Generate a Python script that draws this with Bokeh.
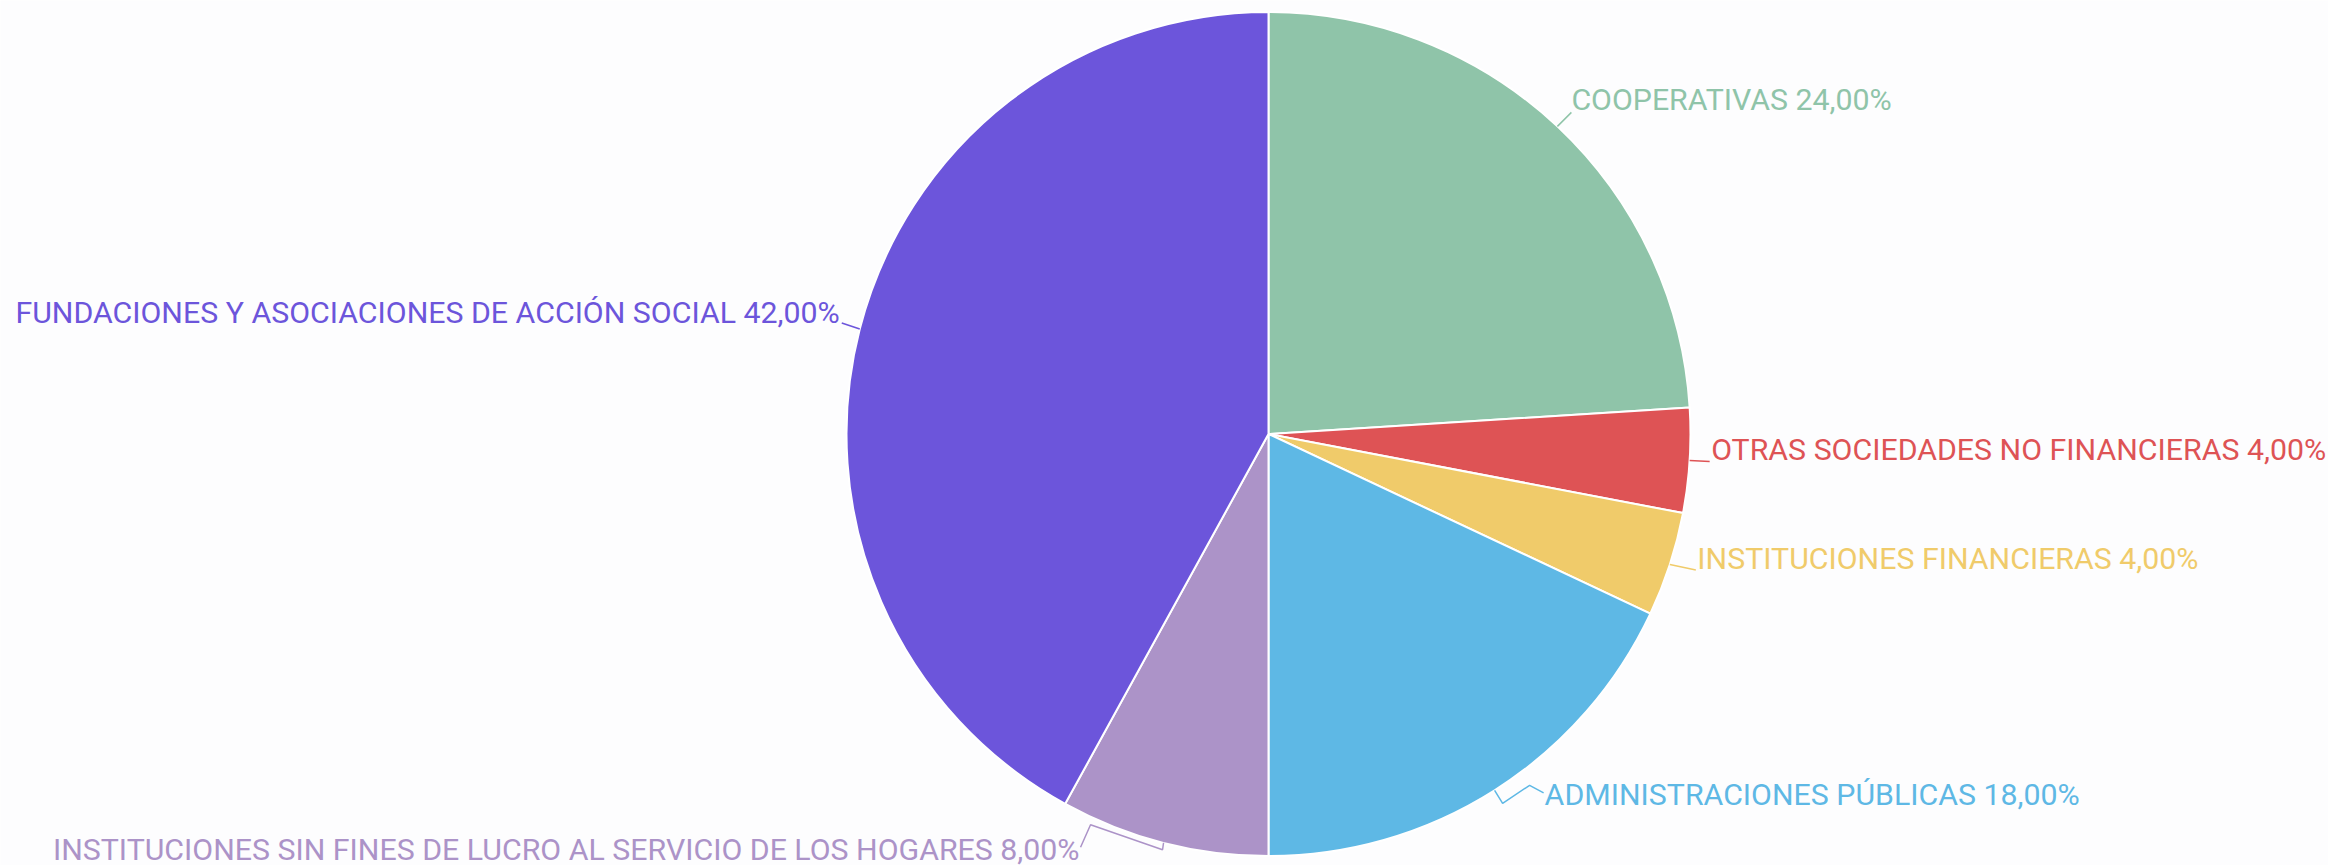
import math
from bokeh.plotting import figure
from bokeh.models import Range1d, ColumnDataSource
from bokeh.core.properties import value
from bokeh.embed import file_html
from bokeh.resources import INLINE

# ---- data ----
categories = [
    "COOPERATIVAS",
    "OTRAS SOCIEDADES NO FINANCIERAS",
    "INSTITUCIONES FINANCIERAS",
    "ADMINISTRACIONES PÚBLICAS",
    "INSTITUCIONES SIN FINES DE LUCRO AL SERVICIO DE LOS HOGARES",
    "FUNDACIONES Y ASOCIACIONES DE ACCIÓN SOCIAL",
]
values = [24.0, 4.0, 4.0, 18.0, 8.0, 42.0]
colors = ["#8FC4A9", "#DE5355", "#F0CB6A", "#5EB8E5", "#AC93C8", "#6C55DB"]

# ---- layout (screen px, y downward) ----
W, H = 2328, 865
CX, CY, R = 1268.0, 433.5, 422.0
# leader-line points relative to the slice edge point
leader_pts = [
    [(14, -14)],
    [(20, 1)],
    [(26, 5.5)],
    [(8, 13), (35, -5), (49, 2.5)],
    [(-1, 7), (-73, -18), (-83, 4.5)],
    [(-18, -6)],
]
# text anchor (baseline) relative to the slice edge point
label_off = [(14, -16), (21.5, 0), (27.5, 5), (50, 15), (-84, 17.5), (-20, -6.5)]
label_align = ["left", "left", "left", "left", "right", "right"]
BASELINE_FIX = -10.5

p = figure(width=W, height=H, output_backend="svg", toolbar_location=None,
           x_range=Range1d(0, W), y_range=Range1d(-H, 0),
           min_border=0)
p.axis.visible = False
p.grid.visible = False
p.outline_line_color = None
p.background_fill_color = "#FDFDFE"
p.border_fill_color = "#FDFDFE"

total = sum(values)
starts, ends, mids = [], [], []
cum = 0.0
for v in values:
    f0 = cum / total
    cum += v
    f1 = cum / total
    starts.append(math.pi / 2 - 2 * math.pi * f0)
    ends.append(math.pi / 2 - 2 * math.pi * f1)
    mids.append(2 * math.pi * (f0 + f1) / 2)  # clockwise from top

src = ColumnDataSource(dict(start=starts, end=ends, color=colors))
p.wedge(x=CX, y=-CY, radius=R, start_angle="start", end_angle="end",
        direction="clock", fill_color="color", line_color="white",
        line_width=2, source=src)

xs, ys, lx, ly, lt = [], [], [], [], []
for i, th in enumerate(mids):
    ex = CX + R * math.sin(th)
    ey = CY - R * math.cos(th)
    px = [ex] + [ex + dx for dx, dy in leader_pts[i]]
    py = [ey] + [ey + dy for dx, dy in leader_pts[i]]
    xs.append(px)
    ys.append([-y for y in py])
    lx.append(ex + label_off[i][0])
    ly.append(-(ey + label_off[i][1] + BASELINE_FIX))
    lt.append(f"{categories[i]} {values[i]:.2f}".replace(".", ",") + "%")

p.multi_line(xs=xs, ys=ys, line_color=colors, line_width=1.5)

p.text(x=lx, y=ly, text=lt, text_color=colors, text_align=label_align,
       text_baseline="alphabetic", text_font=value("Roboto"),
       text_font_size="30.3px")

open("out.html", "w").write(file_html(p, INLINE))
